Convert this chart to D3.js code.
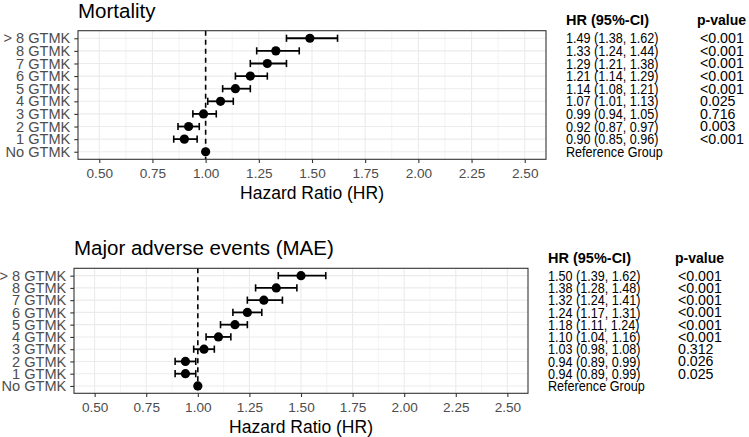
<!DOCTYPE html>
<html>
<head>
<meta charset="utf-8">
<script src="https://cdn.jsdelivr.net/npm/d3@7"></script>
<style>
  body { margin: 0; background: #fff; }
  text { font-family: "Liberation Sans", Arial, sans-serif; }
</style>
</head>
<body>
<svg id="chart" width="749" height="437"></svg>
<script>
// categories, top row first
const groups = ["> 8 GTMK", "8 GTMK", "7 GTMK", "6 GTMK", "5 GTMK", "4 GTMK", "3 GTMK", "2 GTMK", "1 GTMK", "No GTMK"]
const xTicks = [0.5, 0.75, 1.0, 1.25, 1.5, 1.75, 2.0, 2.25, 2.5]

// mortality
const mortHR = [1.49, 1.33, 1.29, 1.21, 1.14, 1.07, 0.99, 0.92, 0.90, 1.00]
const mortLo = [1.38, 1.24, 1.21, 1.14, 1.08, 1.01, 0.94, 0.87, 0.85, null]
const mortHi = [1.62, 1.44, 1.38, 1.29, 1.21, 1.13, 1.05, 0.97, 0.96, null]
const mortP = ["<0.001", "<0.001", "<0.001", "<0.001", "<0.001", "0.025", "0.716", "0.003", "<0.001", ""]

// major adverse events
const maeHR = [1.50, 1.38, 1.32, 1.24, 1.18, 1.10, 1.03, 0.94, 0.94, 1.00]
const maeLo = [1.39, 1.28, 1.24, 1.17, 1.11, 1.04, 0.98, 0.89, 0.89, null]
const maeHi = [1.62, 1.48, 1.41, 1.31, 1.24, 1.16, 1.08, 0.99, 0.99, null]
const maeP = ["<0.001", "<0.001", "<0.001", "<0.001", "<0.001", "<0.001", "0.312", "0.026", "0.025", ""]

const svg = d3.select("#chart")
const f2 = d3.format(".2f")

function drawPanel(opt) {
    let g = svg.append("g")
    let rows = groups.map((k, i) => ({ key: k, hr: opt.hr[i], lo: opt.lo[i], hi: opt.hi[i], p: opt.p[i] }))

    // scales (ggplot-like expansion)
    let x = d3.scaleLinear().domain([0.4, 2.6]).range([opt.left, opt.right])
    let y = d3.scalePoint().domain(groups).range([opt.top, opt.bottom]).padding(0.6)

    // grid
    let minor = xTicks.slice(1).map((t, i) => (t + xTicks[i]) / 2)
    g.selectAll(".minor").data(minor).enter().append("line")
        .attr("x1", d => x(d)).attr("x2", d => x(d))
        .attr("y1", opt.top).attr("y2", opt.bottom)
        .attr("stroke", "#ebebeb").attr("stroke-width", 0.6)
    g.selectAll(".vmajor").data(xTicks).enter().append("line")
        .attr("x1", d => x(d)).attr("x2", d => x(d))
        .attr("y1", opt.top).attr("y2", opt.bottom)
        .attr("stroke", "#ebebeb").attr("stroke-width", 1.1)
    g.selectAll(".hmajor").data(groups).enter().append("line")
        .attr("x1", opt.left).attr("x2", opt.right)
        .attr("y1", d => y(d)).attr("y2", d => y(d))
        .attr("stroke", "#ebebeb").attr("stroke-width", 1.1)

    // reference line
    g.append("line")
        .attr("x1", x(1)).attr("x2", x(1))
        .attr("y1", opt.top).attr("y2", opt.bottom)
        .attr("stroke", "#000").attr("stroke-width", 1.6)
        .attr("stroke-dasharray", "5,4")

    // error bars
    let ci = rows.filter(d => d.lo != null)
    g.selectAll(".bar").data(ci).enter().append("line")
        .attr("x1", d => x(d.lo)).attr("x2", d => x(d.hi))
        .attr("y1", d => y(d.key)).attr("y2", d => y(d.key))
        .attr("stroke", "#000").attr("stroke-width", 1.8)
    ci.forEach(d => {
        [d.lo, d.hi].forEach(v => {
            g.append("line")
                .attr("x1", x(v)).attr("x2", x(v))
                .attr("y1", y(d.key) - 3.6).attr("y2", y(d.key) + 3.6)
                .attr("stroke", "#000").attr("stroke-width", 1.6)
        })
    })

    // points
    g.selectAll("circle").data(rows).enter().append("circle")
        .attr("cx", d => x(d.hr)).attr("cy", d => y(d.key))
        .attr("r", 4.6).attr("fill", "#000")

    // panel border
    g.append("rect")
        .attr("x", opt.left).attr("y", opt.top)
        .attr("width", opt.right - opt.left).attr("height", opt.bottom - opt.top)
        .attr("fill", "none").attr("stroke", "#333").attr("stroke-width", 1.1)

    // axes
    let xAxis = g.append("g")
        .attr("transform", "translate(0," + opt.bottom + ")")
        .call(d3.axisBottom(x).tickValues(xTicks).tickFormat(f2).tickSize(3.7))
    xAxis.select(".domain").remove()
    xAxis.selectAll("line").attr("stroke", "#333").attr("stroke-width", 1.1)
    xAxis.selectAll("text").attr("y", 14.2).attr("dy", "0.35em")
        .attr("fill", "#4d4d4d").style("font-size", "13.6px")

    let yAxis = g.append("g")
        .attr("transform", "translate(" + opt.left + ",0)")
        .call(d3.axisLeft(y).tickSize(3.7).tickPadding(4))
    yAxis.select(".domain").remove()
    yAxis.selectAll("line").attr("stroke", "#333").attr("stroke-width", 1.1)
    yAxis.selectAll("text").attr("fill", "#4d4d4d").style("font-size", "14.6px")

    // titles
    g.append("text")
        .attr("x", opt.left).attr("y", opt.top - 13)
        .style("font-size", "20.5px").attr("fill", "#000")
        .text(opt.title)
    g.append("text")
        .attr("x", (opt.left + opt.right) / 2).attr("y", opt.bottom + 34)
        .attr("dy", "0.35em").attr("text-anchor", "middle")
        .style("font-size", "17.5px").attr("fill", "#000")
        .text("Hazard Ratio (HR)")

    // table
    g.append("text")
        .attr("x", opt.ciX).attr("y", opt.headY).attr("dy", "0.35em")
        .style("font-size", "14.5px").style("font-weight", "bold")
        .text("HR (95%-CI)")
    g.append("text")
        .attr("x", opt.pX - 3).attr("y", opt.headY).attr("dy", "0.35em")
        .style("font-size", "14px").style("font-weight", "bold")
        .text("p-value")
    g.selectAll(".ci").data(rows).enter().append("text")
        .attr("transform", d => "translate(" + opt.ciX + "," + y(d.key) + ") scale(0.87,1)")
        .attr("dy", "0.35em").style("font-size", "14.5px")
        .text(d => d.lo == null ? "Reference Group" : f2(d.hr) + " (" + f2(d.lo) + ", " + f2(d.hi) + ")")
    g.selectAll(".pv").data(rows).enter().append("text")
        .attr("x", opt.pX).attr("y", d => y(d.key))
        .attr("dy", "0.35em").style("font-size", "14.2px")
        .text(d => d.p)
}

drawPanel({
    title: "Mortality", hr: mortHR, lo: mortLo, hi: mortHi, p: mortP,
    left: 78, right: 546, top: 30.7, bottom: 159.3,
    ciX: 566, pX: 700, headY: 20
})
drawPanel({
    title: "Major adverse events (MAE)", hr: maeHR, lo: maeLo, hi: maeHi, p: maeP,
    left: 74, right: 528, top: 268.3, bottom: 393.3,
    ciX: 548, pX: 678, headY: 258
})
</script>
</body>
</html>
